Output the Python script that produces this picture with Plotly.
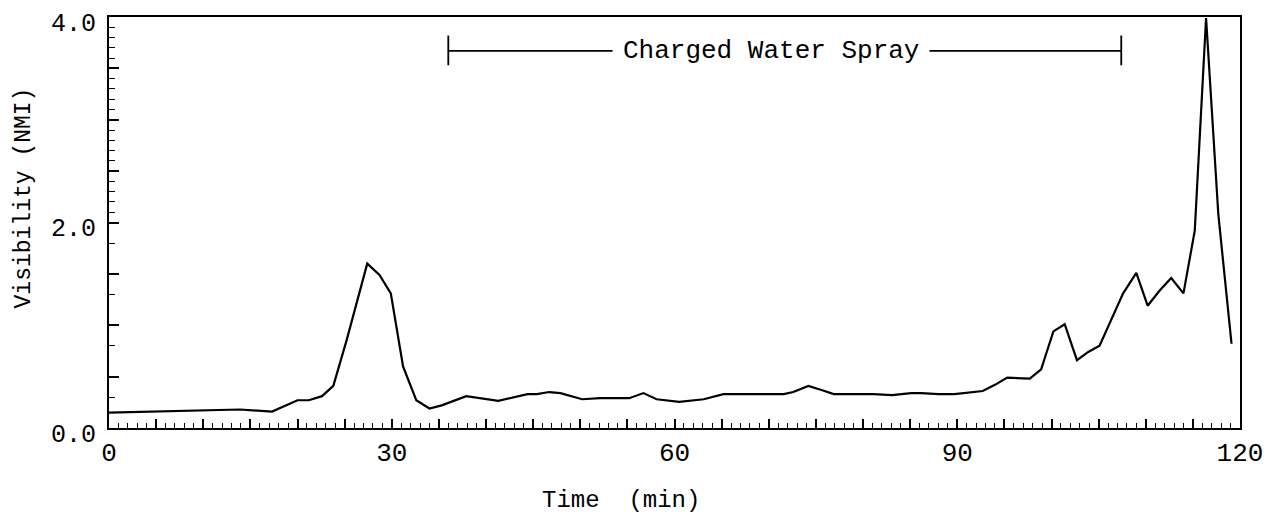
import plotly.graph_objects as go

# ---- data ----
time_min = [0, 11, 13.9, 17.3, 20.0, 21.2, 22.6, 23.8, 25.2, 27.4, 28.7, 29.9,
            31.2, 32.6, 34.0, 35.3, 37.9, 41.3, 44.4, 45.4, 46.7, 47.9, 50.2,
            52.1, 55.2, 56.7, 58.1, 60.5, 63.1, 65.2, 71.6, 72.6, 74.2, 75.6,
            76.9, 81.1, 83.1, 85.1, 86.2, 88.0, 89.7, 92.7, 94.0, 95.3, 97.7,
            98.9, 100.2, 101.4, 102.7, 103.9, 105.1, 107.6, 109.0, 110.2,
            111.5, 112.7, 114.0, 115.2, 116.4, 117.7, 119.1]
visibility = [0.15, 0.17, 0.18, 0.16, 0.27, 0.27, 0.31, 0.41, 0.85, 1.60, 1.49, 1.31,
              0.60, 0.27, 0.19, 0.22, 0.31, 0.265, 0.33, 0.33, 0.35, 0.34, 0.28,
              0.29, 0.29, 0.34, 0.28, 0.255, 0.28, 0.33, 0.33, 0.35, 0.41, 0.37,
              0.33, 0.33, 0.32, 0.34, 0.34, 0.33, 0.33, 0.36, 0.42, 0.49, 0.48,
              0.57, 0.94, 1.01, 0.66, 0.74, 0.80, 1.31, 1.51, 1.19,
              1.34, 1.46, 1.31, 1.92, 3.99, 2.08, 0.82]

x_labeled = [0, 30, 60, 90, 120]
y_labeled = [0.0, 2.0, 4.0]
spray_start, spray_end = 36.0, 107.4
spray_label = "Charged Water Spray"
x_title = "Time  (min)"
y_title = "Visibility (NMI)"

FONT = "Liberation Mono, Courier New, monospace"

x_major = list(range(0, 121, 5))
x_text = [str(v) if v in x_labeled else "" for v in x_major]
y_major = [i * 0.5 for i in range(9)]
y_text = [f"{v:.1f}" if v in y_labeled else "" for v in y_major]
y_minor = [0.3, 0.8, 1.3, 1.8] + [round(2.0 + 0.1 * i, 1) for i in range(1, 20) if i % 5 != 0]

fig = go.Figure()
fig.add_trace(go.Scatter(x=time_min, y=visibility, mode="lines",
                         line=dict(color="black", width=2.2), showlegend=False))

span_y = 3.67
fig.add_shape(type="line", x0=spray_start, x1=spray_end, y0=span_y, y1=span_y,
              line=dict(color="black", width=1.8))
for xv in (spray_start, spray_end):
    fig.add_shape(type="line", x0=xv, x1=xv, y0=3.53, y1=3.82,
                  line=dict(color="black", width=1.8))
fig.add_annotation(x=(spray_start + spray_end) / 2 - 1.5, y=span_y, text=spray_label,
                   showarrow=False, bgcolor="white", borderpad=10,
                   xanchor="center", yanchor="middle",
                   font=dict(family=FONT, size=26, color="black"))

fig.add_annotation(xref="paper", yref="paper", x=0.453, y=-0.176, text=x_title,
                   xanchor="center", yanchor="middle",
                   showarrow=False, font=dict(family=FONT, size=24, color="black"))
fig.add_annotation(xref="paper", yref="paper", x=-0.0755, y=0.56, text=y_title,
                   xanchor="center", yanchor="middle",
                   textangle=-90, showarrow=False,
                   font=dict(family=FONT, size=23, color="black"))

fig.update_xaxes(range=[0, 120], showline=True, linecolor="black", linewidth=2,
                 mirror=True, showgrid=False, zeroline=False, automargin=False,
                 tickmode="array", tickvals=x_major, ticktext=x_text,
                 ticks="inside", ticklen=9, tickwidth=1.5, tickcolor="black",
                 ticklabeloverflow="allow",
                 minor=dict(dtick=1, tick0=0, ticks="inside", ticklen=5,
                            tickwidth=1.2, tickcolor="black", showgrid=False),
                 tickfont=dict(family=FONT, size=26, color="black"))
fig.update_yaxes(range=[0, 4.0], showline=True, linecolor="black", linewidth=2,
                 mirror=True, showgrid=False, zeroline=False, automargin=False,
                 tickmode="array", tickvals=y_major, ticktext=y_text,
                 ticks="inside", ticklen=10, tickwidth=1.5, tickcolor="black",
                 ticklabelstandoff=6, ticklabelshift=5, ticklabeloverflow="allow",
                 minor=dict(tickmode="array", tickvals=y_minor, ticks="inside",
                            ticklen=6, tickwidth=1.2, tickcolor="black",
                            showgrid=False),
                 tickfont=dict(family=FONT, size=25, color="black"))

# page has an 8px body margin, so the figure is sized/offset to compensate
fig.update_layout(width=1268, height=508, plot_bgcolor="white", paper_bgcolor="white",
                  margin=dict(l=101, r=36, t=9, b=88), showlegend=False)

fig.write_html("out.html")
